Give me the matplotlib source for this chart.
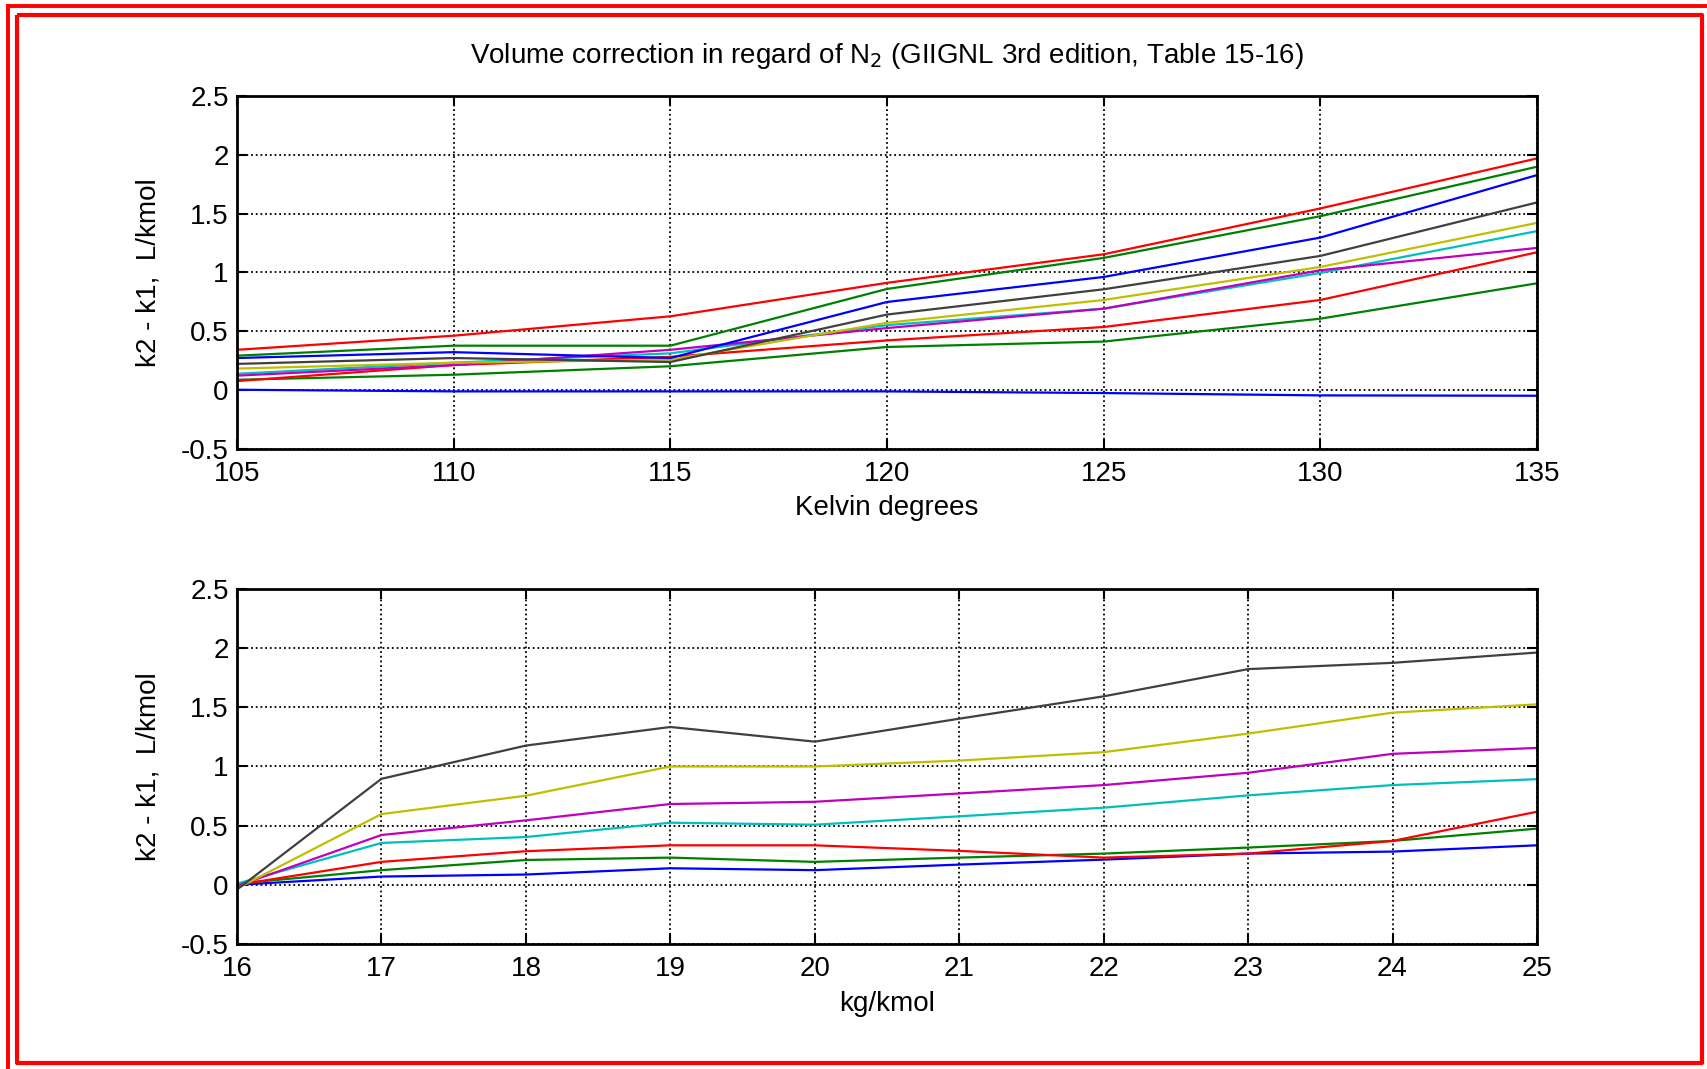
import matplotlib
matplotlib.use("Agg")
import matplotlib.pyplot as plt
from matplotlib.lines import Line2D

plt.rcParams['font.family'] = ['Liberation Sans', 'DejaVu Sans']

# ---- data ----
kelvin = [105, 110, 115, 120, 125, 130, 135]
top_series = [
    [0.00, -0.014, -0.014, -0.014, -0.028, -0.048, -0.051],
    [0.085, 0.128, 0.20, 0.364, 0.41, 0.605, 0.906],
    [0.074, 0.21, 0.28, 0.42, 0.534, 0.764, 1.17],
    [0.136, 0.23, 0.31, 0.55, 0.69, 0.994, 1.35],
    [0.12, 0.21, 0.34, 0.525, 0.69, 1.017, 1.207],
    [0.18, 0.23, 0.255, 0.57, 0.764, 1.045, 1.42],
    [0.22, 0.27, 0.236, 0.64, 0.855, 1.139, 1.594],
    [0.27, 0.32, 0.27, 0.747, 0.96, 1.295, 1.827],
    [0.29, 0.375, 0.375, 0.858, 1.122, 1.477, 1.898],
    [0.34, 0.46, 0.625, 0.91, 1.153, 1.543, 1.969],
]
molar_mass = [16, 17, 18, 19, 20, 21, 22, 23, 24, 25]
bottom_series = [
    [0.00, 0.07, 0.087, 0.14, 0.124, 0.171, 0.213, 0.264, 0.281, 0.334],
    [0.01, 0.124, 0.21, 0.23, 0.194, 0.23, 0.264, 0.315, 0.371, 0.475],
    [0.00, 0.194, 0.284, 0.334, 0.334, 0.287, 0.23, 0.264, 0.371, 0.618],
    [0.01, 0.354, 0.404, 0.525, 0.508, 0.579, 0.652, 0.756, 0.843, 0.893],
    [-0.01, 0.421, 0.545, 0.683, 0.702, 0.772, 0.843, 0.947, 1.107, 1.157],
    [-0.03, 0.598, 0.753, 1.0, 1.0, 1.05, 1.121, 1.278, 1.455, 1.525],
    [-0.04, 0.896, 1.177, 1.334, 1.21, 1.404, 1.593, 1.823, 1.876, 1.963],
]
yticks = [-0.5, 0, 0.5, 1, 1.5, 2, 2.5]
ytick_labels = ['-0.5', '0', '0.5', '1', '1.5', '2', '2.5']
title = r'Volume correction in regard of N$_2$ (GIIGNL 3rd edition, Table 15-16)'
ylabel = 'k2 - k1,  L/kmol'
xlabel_top = 'Kelvin degrees'
xlabel_bottom = 'kg/kmol'

colors = [(0, 0, 1), (0, 0.5, 0), (1, 0, 0), (0, 0.75, 0.75),
          (0.75, 0, 0.75), (0.75, 0.75, 0), (0.25, 0.25, 0.25)]

W, H = 1707, 1069
fig = plt.figure(figsize=(W / 100, H / 100), dpi=100)
fs = 20

left = 237 / W
width = (1537 - 237) / W
ax1 = fig.add_axes([left, 1 - 448.5 / H, width, 352.5 / H])
ax2 = fig.add_axes([left, 1 - 944 / H, width, 355 / H])


def style(ax):
    ax.set_ylim(-0.5, 2.5)
    ax.set_yticks(yticks)
    ax.set_yticklabels(ytick_labels)
    ax.grid(True, color='black', linestyle=(0, (1.0, 1.6)), linewidth=1.3)
    ax.tick_params(direction='in', length=7, width=1.5, top=True, right=True,
                   labelsize=fs, pad=9)
    ax.tick_params(axis='y', pad=6)
    for s in ax.spines.values():
        s.set_linewidth(2.0)
    ax.set_ylabel(ylabel, fontsize=fs, labelpad=14)


for i, ys in enumerate(top_series):
    ax1.plot(kelvin, ys, color=colors[i % 7], linewidth=1.6)
ax1.set_xlim(105, 135)
ax1.set_xticks(kelvin)
style(ax1)
ax1.set_xlabel(xlabel_top, fontsize=fs, labelpad=6)
ax1.set_title(title, fontsize=fs, pad=24)

for i, ys in enumerate(bottom_series):
    ax2.plot(molar_mass, ys, color=colors[i % 7], linewidth=1.6)
ax2.set_xlim(16, 25)
ax2.set_xticks(molar_mass)
style(ax2)
ax2.set_xlabel(xlabel_bottom, fontsize=fs, labelpad=6)

# red frame
def px_line(xs, ys, lw):
    fig.add_artist(Line2D([x / W for x in xs], [1 - y / H for y in ys],
                          transform=fig.transFigure, color='red',
                          linewidth=lw, solid_capstyle='butt'))

px_line([7, 1707], [5.5, 5.5], 2.8)
px_line([7.5, 7.5], [4, 1069], 2.8)
px_line([16.5, 1701.5, 1701.5, 16.5, 16.5], [14.5, 14.5, 1062.5, 1062.5, 14.5], 3.0)

fig.savefig('out.png', dpi=100, facecolor='white')
